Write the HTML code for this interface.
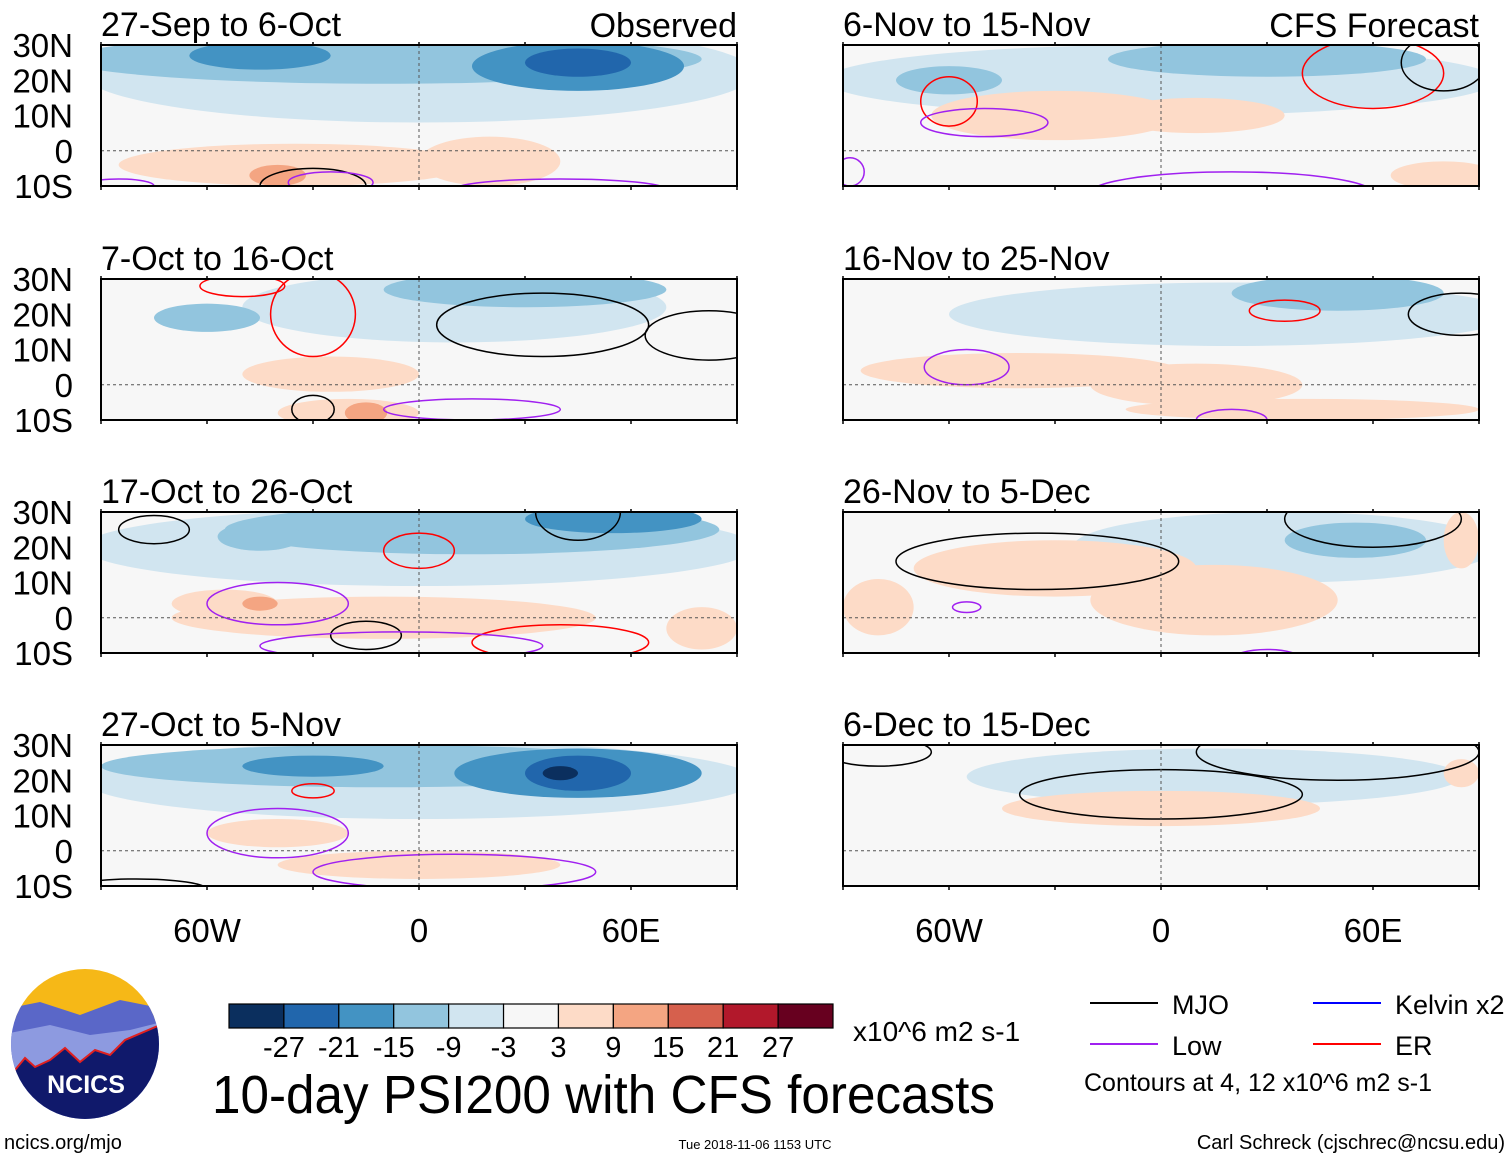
<!DOCTYPE html>
<html><head><meta charset="utf-8"><style>
body{margin:0;background:#fff;}
svg text{font-family:"Liberation Sans",sans-serif;}
</style></head><body>
<svg id="root" width="1510" height="1159" viewBox="0 0 1510 1159" xmlns="http://www.w3.org/2000/svg">
<g id="panels"></g>
<g id="legend"></g>
</svg>
<script>
const levels=[-27,-21,-15,-9,-3,3,9,15,21,27];
const colors=["#0b2f5e","#2166ac","#4393c3","#92c5de","#d1e5f0","#f7f7f7","#fddbc7","#f4a582","#d6604d","#b2182b","#67001f"];
const titles=["27-Sep to 6-Oct","7-Oct to 16-Oct","17-Oct to 26-Oct","27-Oct to 5-Nov","6-Nov to 15-Nov","16-Nov to 25-Nov","26-Nov to 5-Dec","6-Dec to 15-Dec"];
const latTicks=["30N","20N","10N","0","10S"];
const latVals=[30,20,10,0,-10];
const lonTicks=["60W","0","60E"];
const lonVals=[-60,0,60];
// blobs: [lon, lat, rxDeg, ryDeg, colorIndex]
const blobs=[
 [[0,22,95,14,4],[-10,26,90,7,3],[-45,27,20,4,2],[45,24,30,7,2],[45,25,15,4,1],[-35,-4,50,6,6],[20,-3,20,7,6],[-40,-7,8,3,7]],
 [[10,22,60,10,4],[30,27,40,5,3],[-60,19,15,4,3],[-25,3,25,5,6],[-20,-8,20,4,6],[-15,-8,6,3,7]],
 [[0,20,95,11,4],[15,25,70,7,3],[55,28,25,4,2],[-45,23,12,4,3],[-10,0,60,6,6],[-55,4,15,4,6],[-45,4,5,2,7],[80,-3,10,6,6]],
 [[0,20,95,11,4],[-10,24,80,6,3],[45,22,35,7,2],[45,22,15,5,1],[40,22,5,2,0],[-30,24,20,3,2],[-40,5,20,4,6],[0,-4,40,4,6]],
 [[0,20,95,10,4],[30,26,45,5,3],[-60,20,15,4,3],[-30,10,35,7,6],[10,10,25,5,6],[80,-7,15,4,6]],
 [[20,20,80,9,4],[50,26,30,5,3],[-40,4,45,5,6],[10,0,30,6,6],[40,-7,50,3,6]],
 [[35,20,60,10,4],[55,22,20,5,3],[-30,14,40,8,6],[15,5,35,10,6],[-80,3,10,8,6],[85,22,5,8,6]],
 [[15,21,70,8,4],[0,12,45,5,6],[85,22,5,4,6]]
];
// contours: [lon, lat, rxDeg, ryDeg, colorIndexInContourColors]
const contourColors=["#000000","#a020f0","#ff0000","#0000ff"];
const contours=[
 [[-30,-10,15,5,0],[-25,-9,12,3,1],[40,-11,30,3,1],[-85,-10,10,2,1]],
 [[35,17,30,9,0],[82,14,18,7,0],[-50,28,12,3,2],[-30,20,12,12,2],[-30,-7,6,4,0],[15,-7,25,3,1]],
 [[-75,25,10,4,0],[0,19,10,5,2],[45,30,12,8,0],[-40,4,20,6,1],[-15,-5,10,4,0],[40,-7,25,5,2],[-5,-8,40,4,1]],
 [[-30,17,6,2,2],[-40,5,20,7,1],[10,-6,40,5,1],[-80,-11,20,3,0]],
 [[-60,14,8,7,2],[-50,8,18,4,1],[60,22,20,10,2],[80,25,12,8,0],[20,-12,40,6,1],[-88,-6,4,4,1]],
 [[-55,5,12,5,1],[35,21,10,3,2],[85,20,15,6,0],[20,-10,10,3,1]],
 [[-35,16,40,8,0],[-55,3,4,1.5,1],[60,28,25,8,0],[30,-12,10,3,1]],
 [[0,16,40,7,0],[50,28,40,8,0],[-80,28,15,4,0]]
];
const NS="http://www.w3.org/2000/svg";
const panelsG=document.getElementById('panels');
const PW=636,PH=141;
const origins=[[101,45],[101,279],[101,512],[101,745],[843,45],[843,279],[843,512],[843,745]];
function mk(t,a,p){const e=document.createElementNS(NS,t);for(const k in a)e.setAttribute(k,a[k]);(p||panelsG).appendChild(e);return e;}
function lonX(o,lon){return o[0]+(lon+90)/180*PW;}
function latY(o,lat){return o[1]+(30-lat)/40*PH;}
origins.forEach((o,i)=>{
  const g=mk('g',{});
  
  
  const cp=mk('clipPath',{id:'cp'+i},g);
  mk('rect',{x:o[0],y:o[1],width:PW,height:PH},cp);
  const inner=mk('g',{'clip-path':'url(#cp'+i+')'},g);
  mk('rect',{x:o[0],y:o[1],width:PW,height:PH,fill:'#f7f7f7'},inner);
  blobs[i].forEach(b=>{
    const e=mk('ellipse',{cx:lonX(o,b[0]),cy:latY(o,b[1]),rx:b[2]/180*PW,ry:b[3]/40*PH,fill:colors[b[4]]},inner);
    
    
  });
  contours[i].forEach(c=>{
    const e=mk('ellipse',{cx:lonX(o,c[0]),cy:latY(o,c[1]),rx:c[2]/180*PW,ry:c[3]/40*PH,fill:'none',stroke:contourColors[c[4]],'stroke-width':1.5},inner);
    
    
  });
  mk('line',{x1:o[0],x2:o[0]+PW,y1:latY(o,0),y2:latY(o,0),stroke:'#555','stroke-dasharray':'3,3','stroke-width':1},inner);
  mk('line',{x1:lonX(o,0),x2:lonX(o,0),y1:o[1],y2:o[1]+PH,stroke:'#555','stroke-dasharray':'3,3','stroke-width':1},inner);
  mk('rect',{x:o[0],y:o[1],width:PW,height:PH,fill:'none',stroke:'#000','stroke-width':2},g);
  for(let lon=-90;lon<=90;lon+=30){const x=lonX(o,lon);mk('line',{x1:x,x2:x,y1:o[1]+PH,y2:o[1]+PH+4,stroke:'#000','stroke-width':1.5},g);mk('line',{x1:x,x2:x,y1:o[1],y2:o[1]-3,stroke:'#000','stroke-width':1.5},g);}
  const t=mk('text',{x:o[0],y:o[1]-9,'font-size':34},g);t.textContent=titles[i];
  
  
  if(i<4){latVals.forEach((v,j)=>{const l=mk('text',{x:73,y:latY(o,v)+12,'font-size':33,'text-anchor':'end'},g);l.textContent=latTicks[j];
    
    });}
  if(i===3||i===7){lonVals.forEach((v,j)=>{const l=mk('text',{x:lonX(o,v),y:942,'font-size':33,'text-anchor':'middle'},g);l.textContent=lonTicks[j];
    
    });}
});
let h=mk('text',{x:737,y:37,'font-size':34,'text-anchor':'end'});h.textContent='Observed';


h=mk('text',{x:1479,y:37,'font-size':34,'text-anchor':'end'});h.textContent='CFS Forecast';


// colorbar
const L=document.getElementById('legend');
const cbX=229,cbW=604,cbY=1004,cbH=24,bw=cbW/colors.length;
colors.forEach((c,i)=>{const r=mk('rect',{x:cbX+i*bw,y:cbY,width:bw,height:cbH,fill:c,stroke:'#000','stroke-width':1.2},L);
  
  });
levels.forEach((v,i)=>{const t=mk('text',{x:cbX+(i+1)*bw,y:1057,'font-size':29,'text-anchor':'middle'},L);t.textContent=v;
  
  });
function txt(x,y,s,str,anchor,name){const t=mk('text',{x:x,y:y,'font-size':s,'text-anchor':anchor||'start'},L);t.textContent=str;return t;}
txt(853,1041,28,'x10^6 m2 s-1','start','units-label');
const mt=txt(212,1113,54,'10-day PSI200 with CFS forecasts','start','main-title');
mt.setAttribute('textLength','783');mt.setAttribute('lengthAdjust','spacingAndGlyphs');
txt(4,1149,20,'ncics.org/mjo','start','website-label');
txt(755,1149,13,'Tue 2018-11-06 1153 UTC','middle','timestamp');
txt(1505,1149,20,'Carl Schreck (cjschrec@ncsu.edu)','end','author-credit');
const leg=[[1090,1003,'#000','MJO'],[1090,1044,'#a020f0','Low'],[1313,1003,'#0000ff','Kelvin x2'],[1313,1044,'#ff0000','ER']];
leg.forEach(l=>{mk('line',{x1:l[0],x2:l[0]+68,y1:l[1],y2:l[1],stroke:l[2],'stroke-width':2},L);txt(l[0]+82,l[1]+11,27,l[3],'start','legend-entry');});
txt(1084,1091,25,'Contours at 4, 12 x10^6 m2 s-1','start','contour-note');
// logo
const lg=mk('g',{},L);
const d=mk('defs',{},lg);const cpl=mk('clipPath',{id:'logoclip'},d);mk('ellipse',{cx:85,cy:1044,rx:74,ry:75},cpl);
const lgi=mk('g',{'clip-path':'url(#logoclip)'},lg);
mk('rect',{x:0,y:960,width:170,height:60,fill:'#f6b817'},lgi);
mk('path',{d:'M0 1010 L40 1002 L80 1015 L120 1000 L170 1010 L170 1120 L0 1120Z',fill:'#5a67c8'},lgi);
mk('path',{d:'M0 1035 L50 1025 L90 1035 L130 1030 L170 1020 L170 1120 L0 1120Z',fill:'#8d9ae0'},lgi);
mk('path',{d:'M0 1065 L15 1070 L25 1058 L35 1067 L50 1060 L65 1048 L80 1062 L95 1050 L110 1055 L125 1040 L160 1025 L170 1030 L170 1120 L0 1120Z',fill:'#10196b',stroke:'#e02020','stroke-width':2},lgi);
const lt=mk('text',{x:86,y:1093,'font-size':25,'font-weight':'bold',fill:'#fff','text-anchor':'middle'},lg);lt.textContent='NCICS';
</script>
</body></html>
